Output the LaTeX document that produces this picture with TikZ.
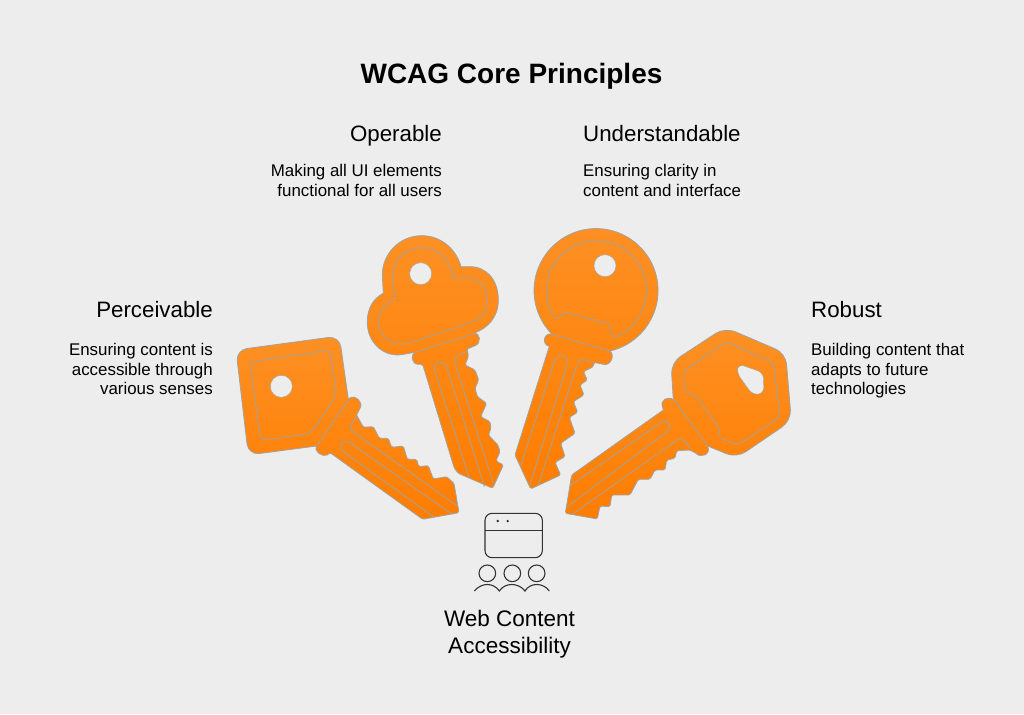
\documentclass[tikz,border=0pt]{standalone}
\usepackage{fontspec}
\setmainfont{Liberation Sans}
\definecolor{pagebg}{HTML}{EDEDED}
\definecolor{keytop}{HTML}{FD9024}
\definecolor{keybot}{HTML}{FF7D00}
\definecolor{keyline}{HTML}{A3A3A0}
\definecolor{iconline}{HTML}{333333}
\tikzset{
  keybody/.style={top color=keytop,bottom color=keybot,draw=keyline,line width=.8pt,line join=round},
  keyinner/.style={draw=keyline,line width=.8pt,line join=round},
  keyhole/.style={fill=pagebg,draw=keyline,line width=.4pt},
  iconstroke/.style={draw=iconline,line width=1.1pt},
  heading/.style={font=\fontsize{22.3}{26}\selectfont,inner sep=0pt},
  blurb/.style={font=\fontsize{16.9}{19.7}\selectfont,inner sep=0pt},
}
\begin{document}
\begin{tikzpicture}[x=1pt,y=-1pt]
  \fill[pagebg] (0,0) rectangle (1024,714);
  \useasboundingbox (0,0) rectangle (1024,714);
  \node[font=\bfseries\fontsize{28}{32}\selectfont,inner sep=0pt] (title) at (511.5,76) {WCAG Core Principles};
  % left key
  \begin{scope}[shift={(220,320)},x=.3333pt,y=-.3333pt]
    \draw[keybody] (290,378) [rounded corners=11pt] -- (85,405) -- (48,90) -- (358,48)
      [sharp corners] -- (385,238) -- (392,232) .. controls (404,225) and (432,245) .. (420,265) -- (410,285)
      [rounded corners=1.5pt] -- (430,322) -- (460,320) -- (478,355) -- (505,355) -- (515,382) -- (550,378) -- (562,418)
      -- (590,418) -- (596,440) -- (625,437) -- (640,477) -- (680,470) -- (702,490) -- (717,578) -- (608,598) -- (330,398)
      [sharp corners] -- (322,405) .. controls (308,412) and (280,395) .. (290,378) -- cycle;
    \draw[keyhole] (184,199) circle (33);
    \draw[keyinner,rounded corners=6pt] (90,125) -- (330,90) -- (350,225) -- (272,340) -- (122,362) -- cycle;
    \draw[keyinner] (385,240) -- (292,375);
    \draw[keyinner,rounded corners=6pt] (640,590) -- (356,385) -- (372,356) -- (697,583);
    \draw[keyinner,rounded corners=5pt] (410,288) -- (385,325) -- (712,558);
  \end{scope}
  % clover key
  \begin{scope}[shift={(360,225)},x=.3333pt,y=-.3333pt]
    \draw[keybody] (70,205) -- (67,150) .. controls (67,85) and (120,32) .. (185,32)
      .. controls (245,32) and (290,75) .. (303,125) -- (330,125)
      .. controls (380,125) and (415,165) .. (415,225) .. controls (415,275) and (385,310) .. (340,325)
      .. controls (362,322) and (365,355) .. (345,362) -- (322,372)
      [rounded corners=1.5pt] -- (325,395) -- (315,420) -- (345,435) -- (356,465) -- (345,490) -- (352,515) -- (380,535)
      -- (362,575) -- (390,590) -- (393,610) -- (385,630) -- (414,660) -- (420,680) -- (408,708) -- (430,720)
      -- (398,790) -- (295,745) -- (283,730) -- (188,418)
      [sharp corners] -- (175,418) .. controls (155,418) and (150,390) .. (165,382) -- (130,388)
      .. controls (70,400) and (20,350) .. (22,290) .. controls (22,250) and (40,220) .. (70,205) -- cycle;
    \draw[keyhole] (182,146) circle (33);
    \draw[keyinner] (105,222) -- (97,160) .. controls (97,105) and (135,68) .. (185,68)
      .. controls (235,68) and (270,105) .. (280,160) -- (320,158)
      .. controls (355,158) and (383,190) .. (383,225) .. controls (383,255) and (365,280) .. (340,290)
      -- (145,355) .. controls (95,365) and (55,335) .. (55,290) .. controls (55,260) and (75,235) .. (105,222) -- cycle;
    \draw[keyinner] (340,327) -- (165,382);
    \draw[keyinner,rounded corners=6pt] (328,760) -- (218,418) -- (255,408) -- (373,785);
    \draw[keyinner,rounded corners=5pt] (400,775) -- (280,398) -- (322,378);
  \end{scope}
  % round key
  \begin{scope}[shift={(510,225)},x=.3333pt,y=-.3333pt]
    \draw[keybody] (300,378) arc (77:-224.6:186)
      .. controls (100,322) and (95,360) .. (118,364)
      [rounded corners=1.5pt] -- (15,690) -- (62,792) -- (152,750) -- (135,712) -- (165,695) -- (152,655) -- (195,625)
      -- (178,577) -- (203,562) -- (190,530) -- (222,510) -- (210,480) -- (232,465) -- (220,440) -- (250,425) -- (252,412)
      [sharp corners] -- (280,418) .. controls (302,424) and (316,390) .. (300,378) -- cycle;
    \draw[keyhole] (285,122) circle (33);
    \draw[keyinner] (318,335) arc (67:-212:150);
    \draw[keyinner,rounded corners=3pt] (135,275) -- (148,282) -- (158,260) -- (298,297) -- (306,335) -- (318,335);
    \draw[keyinner] (125,328) -- (300,378);
    \draw[keyinner,rounded corners=6pt] (32,722) -- (140,388) -- (178,398) -- (60,780);
    \draw[keyinner,rounded corners=5pt] (85,780) -- (207,400) -- (252,412);
  \end{scope}
  % hex key
  \begin{scope}[shift={(560,320)},x=.3333pt,y=-.3333pt]
    \draw[keybody] (443,378) [rounded corners=11pt] -- (530,414) -- (694,302) -- (677,100) -- (495,22) -- (333,128)
      [sharp corners] -- (340,240) .. controls (325,226) and (298,240) .. (308,262) -- (310,270)
      [rounded corners=1.5pt] -- (35,465) -- (16,580) -- (112,597) -- (120,558) -- (150,560) -- (155,525) -- (210,525)
      -- (235,478) -- (270,478) -- (285,450) -- (315,450) -- (320,420) -- (345,415) -- (350,392) -- (390,390)
      [sharp corners] -- (408,400) .. controls (420,415) and (455,405) .. (443,378) -- cycle;
    \draw[keyhole,rounded corners=6pt] (535,132) -- (610,158) -- (612,220) -- (578,225) -- (530,158) -- cycle;
    \draw[keyinner,rounded corners=4pt] (375,217) -- (370,155) -- (497,65) -- (640,128) -- (660,290) -- (535,375)
      -- (472,350) -- (482,330) -- (405,225) -- cycle;
    \draw[keyinner] (342,238) -- (443,378);
    \draw[keyinner,rounded corners=6pt] (30,497) -- (318,297) -- (336,324) -- (22,560);
    \draw[keyinner,rounded corners=5pt] (38,582) -- (365,350) -- (390,385);
  \end{scope}
  % labels
  \node[heading,anchor=base east] (operable) at (442,142) {Operable};
  \node[blurb,anchor=north east,align=right] (operabletext) at (442,164) {Making all UI elements\\functional for all users};
  \node[heading,anchor=base west] (understandable) at (583,142) {Understandable};
  \node[blurb,anchor=north west,align=left] (understandabletext) at (583,164) {Ensuring clarity in\\content and interface};
  \node[heading,anchor=base east] (perceivable) at (213,317) {Perceivable};
  \node[blurb,anchor=north east,align=right] (perceivabletext) at (213,343) {Ensuring content is\\accessible through\\various senses};
  \node[heading,anchor=base west] (robust) at (811,317) {Robust};
  \node[blurb,anchor=north west,align=left] (robusttext) at (811,343) {Building content that\\adapts to future\\technologies};
  \node[font=\fontsize{22.5}{27}\selectfont,align=center,inner sep=0pt] (webcontent) at (509.5,634) {Web Content\\Accessibility};
  % people icon
  \begin{scope}[shift={(465,505)},x=.3333pt,y=-.3333pt]
    \draw[iconstroke,rounded corners=7pt] (60,25) rectangle (232,158);
    \draw[iconstroke] (60,76) -- (232,76);
    \fill[iconline] (98,48) circle (4) (128,48) circle (4);
    \foreach \cx in {67,142,215} \draw[iconstroke] (\cx,205) circle (25);
    \draw[iconstroke] (28,258) .. controls (50,232) and (85,232) .. (103,258)
      .. controls (120,232) and (160,232) .. (180,258) .. controls (195,232) and (235,232) .. (253,258);
  \end{scope}
\end{tikzpicture}
\end{document}
